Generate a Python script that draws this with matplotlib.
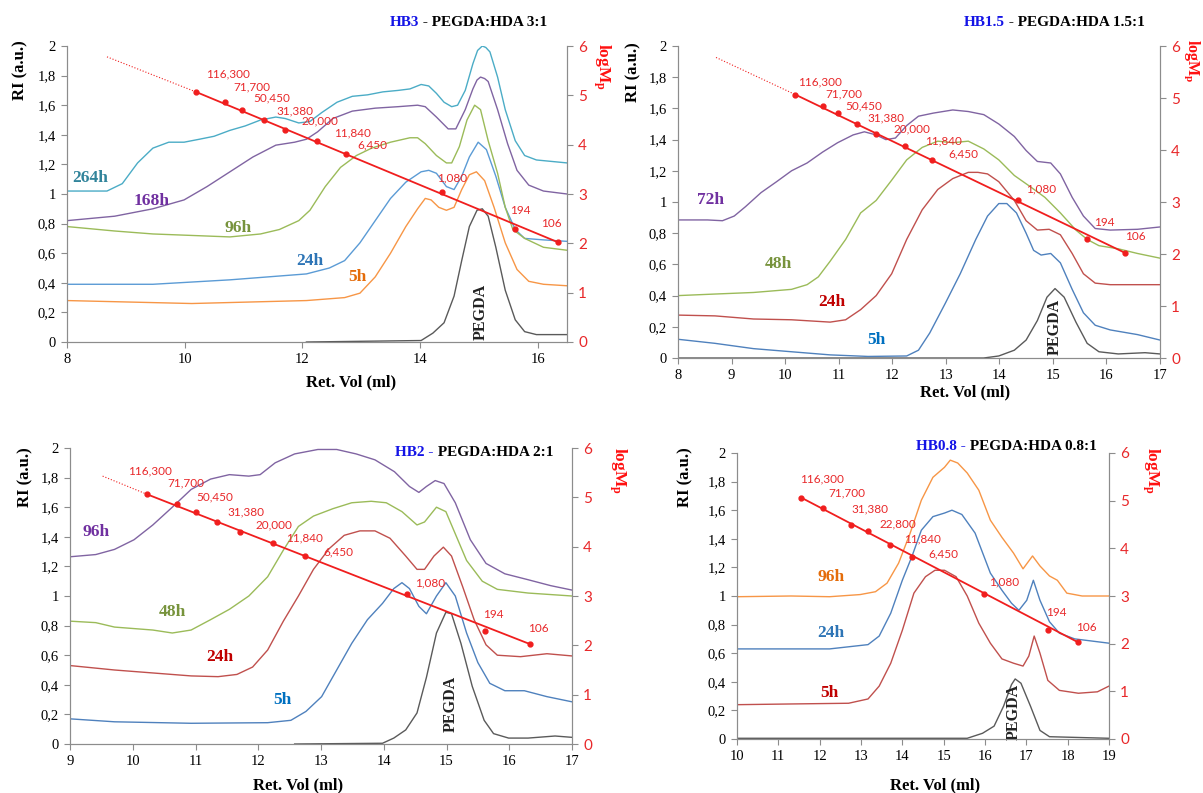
import numpy as np
import matplotlib.pyplot as plt
from matplotlib.ticker import FuncFormatter, MultipleLocator

plt.rcParams['font.family'] = ['Liberation Serif', 'DejaVu Serif']
plt.rcParams['mathtext.fontset'] = 'custom'
plt.rcParams['mathtext.rm'] = 'Liberation Serif'
plt.rcParams['mathtext.bf'] = 'Liberation Serif:bold'

W, H = 1203, 793

# ---- HB3 (PEGDA:HDA 3:1) ----
hb3_264h_x = [8.0, 8.68, 8.94, 9.2, 9.46, 9.73, 9.99, 10.25, 10.5, 10.77, 11.03, 11.29, 11.55, 11.71, 11.94, 12.13, 12.33, 12.59, 12.85, 13.11,
              13.37, 13.63, 13.83, 14.02, 14.15, 14.28, 14.41, 14.54, 14.64, 14.77, 14.9, 14.98, 15.06, 15.12, 15.19, 15.32, 15.45, 15.62, 15.78, 15.98, 16.24, 16.5]
hb3_264h_y = [1.02, 1.02, 1.07, 1.21, 1.31, 1.35, 1.35, 1.37, 1.39, 1.43, 1.46, 1.50, 1.52, 1.51, 1.48, 1.49, 1.55, 1.62, 1.66, 1.67,
              1.69, 1.70, 1.71, 1.74, 1.73, 1.68, 1.62, 1.59, 1.60, 1.70, 1.88, 1.97, 2.00, 1.99, 1.96, 1.79, 1.57, 1.36, 1.26, 1.23, 1.22, 1.21]
hb3_168h_x = [8.0, 8.81, 9.46, 9.99, 10.38, 10.77, 11.16, 11.55, 11.87, 12.07, 12.26, 12.52, 12.85, 13.24, 13.63, 13.96, 14.09, 14.28, 14.48, 14.61,
              14.77, 14.9, 14.97, 15.03, 15.1, 15.16, 15.32, 15.49, 15.65, 15.85, 16.1, 16.5]
hb3_168h_y = [0.82, 0.85, 0.90, 0.96, 1.05, 1.15, 1.25, 1.33, 1.35, 1.37, 1.42, 1.51, 1.56, 1.58, 1.59, 1.60, 1.59, 1.52, 1.44, 1.44,
              1.57, 1.71, 1.77, 1.79, 1.78, 1.76, 1.57, 1.34, 1.16, 1.06, 1.02, 1.00]
hb3_96h_x = [8.0, 8.81, 9.46, 10.12, 10.77, 11.29, 11.61, 11.94, 12.13, 12.39, 12.65, 12.92, 13.18, 13.5, 13.83, 13.96, 14.09, 14.28, 14.45, 14.54,
             14.67, 14.8, 14.93, 15.03, 15.16, 15.32, 15.45, 15.58, 15.78, 16.1, 16.5]
hb3_96h_y = [0.78, 0.75, 0.73, 0.72, 0.71, 0.73, 0.76, 0.82, 0.89, 1.05, 1.18, 1.26, 1.31, 1.35, 1.38, 1.38, 1.34, 1.26, 1.21, 1.21,
             1.32, 1.50, 1.60, 1.57, 1.36, 1.14, 0.91, 0.76, 0.70, 0.64, 0.62]
hb3_24h_x = [8.0, 9.46, 10.77, 12.07, 12.46, 12.72, 12.98, 13.24, 13.5, 13.76, 14.02, 14.15, 14.28, 14.45, 14.58, 14.71, 14.84, 14.99, 15.13, 15.29,
             15.45, 15.62, 15.78, 16.1, 16.5]
hb3_24h_y = [0.39, 0.39, 0.42, 0.46, 0.50, 0.55, 0.67, 0.82, 0.97, 1.08, 1.15, 1.16, 1.14, 1.05, 1.03, 1.12, 1.25, 1.35, 1.30, 1.12,
             0.91, 0.76, 0.70, 0.69, 0.68]
hb3_5h_x = [8.0, 10.12, 12.07, 12.72, 12.98, 13.24, 13.5, 13.76, 13.96, 14.09, 14.19, 14.32, 14.45, 14.58, 14.71, 14.84, 14.96, 15.1, 15.26, 15.45,
            15.65, 15.85, 16.1, 16.5]
hb3_5h_y = [0.28, 0.26, 0.28, 0.30, 0.33, 0.44, 0.60, 0.78, 0.90, 0.97, 0.96, 0.91, 0.89, 0.91, 1.03, 1.13, 1.15, 1.09, 0.91, 0.67,
            0.49, 0.41, 0.39, 0.38]
hb3_pegda_x = [12.07, 14.02, 14.22, 14.41, 14.58, 14.71, 14.84, 14.97, 15.06, 15.16, 15.29, 15.45, 15.62, 15.78, 15.98, 16.5]
hb3_pegda_y = [0.0, 0.01, 0.06, 0.13, 0.31, 0.55, 0.78, 0.89, 0.90, 0.85, 0.64, 0.35, 0.15, 0.07, 0.05, 0.05]

# ---- HB1.5 (PEGDA:HDA 1.5:1) ----
hb15_72h_x = [8.0, 8.55, 8.83, 9.05, 9.26, 9.55, 9.84, 10.12, 10.41, 10.7, 10.98, 11.27, 11.48, 11.7, 11.88, 12.06, 12.27, 12.49, 12.77, 13.13,
              13.42, 13.71, 13.99, 14.28, 14.5, 14.71, 14.96, 15.14, 15.36, 15.57, 15.79, 16.07, 16.58, 17.0]
hb15_72h_y = [0.885, 0.885, 0.88, 0.91, 0.97, 1.06, 1.13, 1.20, 1.25, 1.32, 1.38, 1.43, 1.45, 1.43, 1.40, 1.41, 1.49, 1.55, 1.57, 1.59,
              1.58, 1.56, 1.50, 1.42, 1.33, 1.26, 1.25, 1.18, 1.03, 0.91, 0.83, 0.82, 0.825, 0.84]
hb15_48h_x = [8.0, 8.69, 9.41, 10.12, 10.41, 10.62, 10.84, 11.13, 11.41, 11.7, 11.99, 12.27, 12.56, 12.85, 13.13, 13.42, 13.71, 13.99, 14.28, 14.57,
              14.85, 15.14, 15.43, 15.64, 15.86, 16.22, 16.58, 17.0]
hb15_48h_y = [0.40, 0.41, 0.42, 0.44, 0.47, 0.52, 0.62, 0.76, 0.93, 1.01, 1.14, 1.27, 1.35, 1.39, 1.38, 1.39, 1.34, 1.27, 1.17, 1.10,
              1.03, 0.93, 0.82, 0.76, 0.72, 0.70, 0.67, 0.64]
hb15_24h_x = [8.0, 8.69, 9.41, 10.12, 10.84, 11.13, 11.41, 11.7, 11.99, 12.27, 12.56, 12.85, 13.13, 13.42, 13.6, 13.78, 13.99, 14.28, 14.5, 14.71,
              14.93, 15.14, 15.36, 15.57, 15.79, 16.07, 17.0]
hb15_24h_y = [0.275, 0.27, 0.25, 0.245, 0.23, 0.245, 0.31, 0.40, 0.54, 0.76, 0.95, 1.08, 1.15, 1.19, 1.19, 1.18, 1.13, 1.01, 0.88, 0.82,
              0.825, 0.79, 0.67, 0.54, 0.48, 0.47, 0.47]
hb15_5h_x = [8.0, 8.69, 9.41, 10.12, 10.84, 11.55, 12.27, 12.49, 12.7, 12.99, 13.27, 13.56, 13.78, 13.99, 14.14, 14.32, 14.5, 14.64, 14.78, 14.96,
             15.14, 15.36, 15.57, 15.79, 16.07, 16.58, 17.0]
hb15_5h_y = [0.12, 0.094, 0.06, 0.04, 0.02, 0.01, 0.013, 0.05, 0.16, 0.35, 0.54, 0.76, 0.91, 0.99, 0.99, 0.93, 0.80, 0.69, 0.66, 0.67,
             0.61, 0.44, 0.29, 0.21, 0.18, 0.15, 0.115]
hb15_pegda_x = [8.0, 13.71, 13.99, 14.28, 14.5, 14.71, 14.89, 15.04, 15.21, 15.43, 15.64, 15.86, 16.22, 16.72, 17.0]
hb15_pegda_y = [0.0, 0.0, 0.013, 0.05, 0.115, 0.24, 0.39, 0.445, 0.39, 0.23, 0.094, 0.04, 0.026, 0.034, 0.026]

# ---- HB2 (PEGDA:HDA 2:1) ----
hb2_96h_x = [9.0, 9.41, 9.71, 10.02, 10.32, 10.63, 10.93, 11.24, 11.54, 11.85, 12.03, 12.27, 12.58, 12.95, 13.25, 13.56, 13.86, 14.17, 14.41, 14.56,
             14.68, 14.82, 14.96, 15.14, 15.38, 15.63, 15.93, 16.3, 16.66, 17.0]
hb2_96h_y = [1.265, 1.28, 1.315, 1.38, 1.48, 1.60, 1.72, 1.79, 1.82, 1.81, 1.82, 1.90, 1.96, 1.99, 1.99, 1.96, 1.92, 1.84, 1.74, 1.70,
             1.74, 1.78, 1.76, 1.63, 1.38, 1.22, 1.15, 1.11, 1.07, 1.04]
hb2_48h_x = [9.0, 9.41, 9.71, 10.32, 10.63, 10.93, 11.24, 11.54, 11.85, 12.15, 12.4, 12.64, 12.88, 13.19, 13.49, 13.8, 14.04, 14.29, 14.53, 14.65,
             14.84, 14.99, 15.14, 15.32, 15.57, 15.81, 16.3, 17.0]
hb2_48h_y = [0.83, 0.82, 0.79, 0.77, 0.75, 0.77, 0.84, 0.91, 1.00, 1.13, 1.31, 1.47, 1.54, 1.59, 1.63, 1.64, 1.63, 1.57, 1.48, 1.50,
             1.60, 1.57, 1.42, 1.24, 1.10, 1.045, 1.02, 1.00]
hb2_24h_x = [9.0, 9.71, 10.32, 10.93, 11.36, 11.66, 11.91, 12.15, 12.4, 12.64, 12.88, 13.13, 13.37, 13.62, 13.86, 14.1, 14.35, 14.53, 14.65, 14.8,
             14.95, 15.08, 15.26, 15.44, 15.63, 15.81, 16.18, 16.6, 17.0]
hb2_24h_y = [0.53, 0.50, 0.48, 0.46, 0.455, 0.47, 0.52, 0.635, 0.83, 1.00, 1.18, 1.32, 1.41, 1.44, 1.44, 1.39, 1.27, 1.18, 1.18, 1.27,
             1.33, 1.27, 1.06, 0.84, 0.67, 0.60, 0.59, 0.61, 0.595]
hb2_5h_x = [9.0, 9.71, 10.93, 12.15, 12.52, 12.76, 13.01, 13.25, 13.49, 13.74, 13.98, 14.16, 14.29, 14.41, 14.56, 14.68, 14.84, 14.99, 15.14, 15.32,
            15.5, 15.69, 15.93, 16.24, 16.6, 17.0]
hb2_5h_y = [0.17, 0.15, 0.14, 0.144, 0.16, 0.22, 0.32, 0.50, 0.68, 0.84, 0.95, 1.05, 1.09, 1.05, 0.93, 0.88, 1.00, 1.09, 1.00, 0.75,
            0.55, 0.41, 0.36, 0.36, 0.32, 0.285]
hb2_pegda_x = [12.58, 13.98, 14.16, 14.35, 14.53, 14.68, 14.84, 14.99, 15.08, 15.23, 15.41, 15.6, 15.75, 15.99, 16.3, 16.73, 17.0]
hb2_pegda_y = [0.0, 0.005, 0.04, 0.095, 0.21, 0.45, 0.75, 0.89, 0.88, 0.68, 0.39, 0.16, 0.07, 0.04, 0.04, 0.054, 0.045]

# ---- HB0.8 (PEGDA:HDA 0.8:1) ----
hb08_96h_x = [10.0, 11.31, 12.24, 12.98, 13.35, 13.63, 13.91, 14.19, 14.46, 14.74, 15.02, 15.16, 15.34, 15.57, 15.85, 16.13, 16.41, 16.69, 16.92, 17.15,
              17.33, 17.56, 17.75, 17.98, 18.35, 19.0]
hb08_96h_y = [0.995, 1.0, 0.995, 1.01, 1.03, 1.09, 1.23, 1.44, 1.67, 1.83, 1.90, 1.95, 1.93, 1.86, 1.74, 1.53, 1.41, 1.30, 1.19, 1.28,
              1.21, 1.14, 1.11, 1.02, 1.0, 1.0]
hb08_24h_x = [10.0, 11.31, 12.24, 13.17, 13.44, 13.72, 14.0, 14.23, 14.46, 14.74, 15.02, 15.2, 15.44, 15.76, 16.13, 16.41, 16.64, 16.82, 17.01, 17.17,
              17.33, 17.56, 17.8, 18.17, 19.0]
hb08_24h_y = [0.63, 0.63, 0.63, 0.66, 0.72, 0.88, 1.11, 1.275, 1.46, 1.555, 1.58, 1.60, 1.57, 1.44, 1.16, 1.04, 0.95, 0.90, 0.97, 1.11,
              0.97, 0.82, 0.74, 0.70, 0.67]
hb08_5h_x = [10.0, 11.31, 12.7, 13.17, 13.44, 13.72, 14.0, 14.28, 14.56, 14.79, 15.02, 15.3, 15.57, 15.85, 16.13, 16.41, 16.69, 16.92, 17.06, 17.19,
             17.33, 17.52, 17.8, 18.26, 18.72, 19.0]
hb08_5h_y = [0.24, 0.245, 0.25, 0.28, 0.37, 0.53, 0.76, 1.02, 1.135, 1.18, 1.18, 1.135, 1.00, 0.81, 0.67, 0.56, 0.53, 0.51, 0.58, 0.72,
             0.60, 0.41, 0.34, 0.32, 0.33, 0.37]
hb08_pegda_x = [10.0, 15.57, 15.94, 16.22, 16.45, 16.64, 16.73, 16.87, 17.1, 17.33, 17.56, 19.0]
hb08_pegda_y = [0.005, 0.005, 0.04, 0.09, 0.23, 0.38, 0.42, 0.39, 0.23, 0.06, 0.016, 0.005]

# ---- calibration standards (Mp) and their retention volumes ----
cal_mp = [116300, 71700, 50450, 31380, 20000, 11840, 6450, 1080, 194, 106]
cal_txt = ['116,300', '71,700', '50,450', '31,380', '20,000', '11,840', '6,450', '1,080', '194', '106']
hb3_cal_x = [10.20, 10.69, 10.97, 11.35, 11.70, 12.25, 12.74, 14.37, 15.62, 16.34]
hb15_cal_x = [10.19, 10.70, 10.98, 11.34, 11.69, 12.24, 12.74, 14.35, 15.63, 16.34]
hb2_cal_x = [10.22, 10.71, 11.00, 11.35, 11.71, 12.24, 12.75, 14.37, 15.62, 16.33]
hb08_cal_mp = [116300, 71700, 31380, 22800, 11840, 6450, 1080, 194, 106]
hb08_cal_txt = ['116,300', '71,700', '31,380', '22,800', '11,840', '6,450', '1,080', '194', '106']
hb08_cal_x = [11.55, 12.08, 12.77, 13.17, 13.69, 14.23, 15.97, 17.52, 18.26]
# start of the dotted extrapolation of the fit (ret. vol, logMp)
hb3_ext = (8.68, 5.78)
hb15_ext = (8.71, 5.78)
hb2_ext = (9.52, 5.43)

C_TEAL, C_PURP, C_GREEN, C_BLUE, C_ORNG, C_RED, C_GRAY = '#4bacc6', '#8064a2', '#9bbb59', '#4f81bd', '#f79646', '#c0504d', '#5a5a5a'
T_TEAL, T_PURP, T_GREEN, T_BLUE, T_ORNG, T_RED = '#31849b', '#7030a0', '#77933c', '#2e75b6', '#e46c0a', '#c00000'
CAL = '#f01e1e'
SPINE = '#8c8c8c'

fig = plt.figure(figsize=(W / 100, H / 100), dpi=100)


def px_axes(l, t, r, b):
    a = fig.add_axes([l / W, 1 - b / H, (r - l) / W, (b - t) / H])
    a.patch.set_alpha(0)
    return a


def fxy(x, y):
    return x / W, 1 - y / H


def ri_fmt(v, _):
    if abs(v - round(v)) < 1e-6:
        return str(int(round(v)))
    return f"{v:.1f}".replace('.', ',')


def setup(ax, xlim, xstep):
    ax.set_xlim(*xlim)
    ax.set_ylim(0, 2)
    ax.xaxis.set_major_locator(MultipleLocator(xstep))
    ax.yaxis.set_major_locator(MultipleLocator(0.2))
    ax.yaxis.set_major_formatter(FuncFormatter(ri_fmt))
    ax.spines['top'].set_visible(False)
    for s in ['left', 'bottom', 'right']:
        ax.spines[s].set_color(SPINE)
    ax.tick_params(direction='out', length=4, color=SPINE, labelsize=10.5, pad=4)
    ax2 = ax.twinx()
    ax2.patch.set_alpha(0)
    ax2.set_ylim(0, 6)
    ax2.yaxis.set_major_locator(MultipleLocator(1))
    ax2.spines['top'].set_visible(False)
    for s in ['left', 'bottom', 'right']:
        ax2.spines[s].set_color(SPINE)
    ax2.tick_params(direction='out', length=4, color=SPINE, labelcolor='#e8282a', labelsize=11,
                    labelfontfamily='Lato', pad=4)
    return ax2


def curves(ax, series):
    for xs, ys, col in series:
        ax.plot(xs, ys, color=col, lw=1.0)


def labels(ax, items):
    for txt, x, y, col in items:
        ax.text(x, y, txt, color=col, fontsize=12.5, fontweight='bold', ha='center', va='center')


def pegda(ax, x, y):
    ax.text(x, y, 'PEGDA', rotation=90, fontsize=11.5, fontweight='bold', ha='center', va='center', color='#222222')


def calib(ax2, xs, mps, txts, offs, ext=None):
    lm = np.log10(mps)
    if ext is not None:
        ax2.plot([ext[0], xs[0]], [ext[1], lm[0]], color=CAL, lw=0.8, ls=':', zorder=5)
    ax2.plot([xs[0], xs[-1]], [lm[0], lm[-1]], color=CAL, lw=1.3, zorder=5)
    ax2.plot(xs, lm, 'o', color=CAL, ms=3.5, zorder=6)
    for x, y, t, (dx, dy) in zip(xs, lm, txts, offs):
        ax2.annotate(t, (x, y), xytext=(dx, dy), textcoords='offset pixels', color='#e8282a',
                     fontsize=8.5, family='Lato', ha='left', va='center', zorder=7)


def title(ax, x_end, y, blue, black):
    t = fig.text(*fxy(x_end, y), black, ha='right', va='center', fontsize=11, fontweight='bold', color='black')
    ax.annotate(blue, xy=(0, 0), xycoords=t, ha='right', va='bottom', fontsize=11,
                fontweight='bold', color='#1414e6', zorder=10)


def side_labels(ri_xy, log_xy, xl_xy, log_size=12.5):
    fig.text(*fxy(*ri_xy), 'RI (a.u.)', rotation=90, ha='center', va='center', fontsize=12, fontweight='bold')
    fig.text(*fxy(*log_xy), r'$\mathbf{logM_p}$', rotation=270, ha='center', va='center', fontsize=log_size,
             color='#ff1010')
    fig.text(*fxy(*xl_xy), 'Ret. Vol (ml)', ha='center', va='center', fontsize=12, fontweight='bold')


# ---------- panel HB3 ----------
ax = px_axes(67, 46, 567, 342)
ax2 = setup(ax, (8, 16.5), 2)
curves(ax, [(hb3_pegda_x, hb3_pegda_y, C_GRAY), (hb3_5h_x, hb3_5h_y, C_ORNG), (hb3_24h_x, hb3_24h_y, '#5b9bd5'),
            (hb3_96h_x, hb3_96h_y, C_GREEN), (hb3_168h_x, hb3_168h_y, C_PURP), (hb3_264h_x, hb3_264h_y, C_TEAL)])
labels(ax, [('264h', 8.39, 1.11, T_TEAL), ('168h', 9.43, 0.95, T_PURP), ('96h', 10.9, 0.77, T_GREEN),
            ('24h', 12.12, 0.55, T_BLUE), ('5h', 12.93, 0.44, T_ORNG)])
pegda(ax, 15.03, 0.2)
calib(ax2, hb3_cal_x, cal_mp, cal_txt,
      [(10, 18), (8, 16), (12, 12), (12, 9), (17, 9), (17, 8), (12, 9), (-5, 14), (-5, 19), (-17, 19)], hb3_ext)
title(ax2, 547, 23, 'HB3', ' - PEGDA:HDA 3:1')
side_labels((20, 70), (602, 66), (351, 382))

# ---------- panel HB1.5 ----------
ax = px_axes(678, 46, 1160, 358)
ax2 = setup(ax, (8, 17), 1)
curves(ax, [(hb15_pegda_x, hb15_pegda_y, C_GRAY), (hb15_5h_x, hb15_5h_y, C_BLUE), (hb15_24h_x, hb15_24h_y, C_RED),
            (hb15_48h_x, hb15_48h_y, C_GREEN), (hb15_72h_x, hb15_72h_y, C_PURP)])
labels(ax, [('72h', 8.6, 1.01, T_PURP), ('48h', 9.87, 0.60, T_GREEN), ('24h', 10.87, 0.36, T_RED),
            ('5h', 11.7, 0.115, '#0070c0')])
pegda(ax, 15.03, 0.2)
calib(ax2, hb15_cal_x, cal_mp, cal_txt,
      [(3, 13), (3, 12), (8, 8), (11, 6), (18, 5), (20, 5), (17, 6), (8, 11), (7, 17), (0, 16)], hb15_ext)
title(ax2, 1145, 23, 'HB1.5', ' - PEGDA:HDA 1.5:1')
side_labels((633, 72), (1192, 61), (965, 392), log_size=11.5)

# ---------- panel HB2 ----------
ax = px_axes(70, 448, 572, 744)
ax2 = setup(ax, (9, 17), 1)
curves(ax, [(hb2_pegda_x, hb2_pegda_y, C_GRAY), (hb2_5h_x, hb2_5h_y, C_BLUE), (hb2_24h_x, hb2_24h_y, C_RED),
            (hb2_48h_x, hb2_48h_y, C_GREEN), (hb2_96h_x, hb2_96h_y, C_PURP)])
labels(ax, [('96h', 9.42, 1.43, T_PURP), ('48h', 10.63, 0.89, T_GREEN), ('24h', 11.39, 0.59, T_RED),
            ('5h', 12.38, 0.30, '#0070c0')])
pegda(ax, 15.07, 0.27)
calib(ax2, hb2_cal_x, cal_mp, cal_txt,
      [(-18, 23), (-10, 22), (1, 15), (10, 10), (15, 7), (13, 5), (18, 4), (8, 11), (-2, 17), (-2, 16)], hb2_ext)
title(ax2, 553, 452, 'HB2 -', ' PEGDA:HDA 2:1')
side_labels((25, 477), (618, 470), (298, 785))

# ---------- panel HB0.8 ----------
ax = px_axes(737, 453, 1109, 739)
ax2 = setup(ax, (10, 19), 1)
curves(ax, [(hb08_pegda_x, hb08_pegda_y, C_GRAY), (hb08_5h_x, hb08_5h_y, C_RED), (hb08_24h_x, hb08_24h_y, C_BLUE),
            (hb08_96h_x, hb08_96h_y, C_ORNG)])
labels(ax, [('96h', 12.27, 1.135, T_ORNG), ('24h', 12.27, 0.74, T_BLUE), ('5h', 12.24, 0.32, T_RED)])
pegda(ax, 16.7, 0.19)
calib(ax2, hb08_cal_x, hb08_cal_mp, hb08_cal_txt,
      [(-1, 19), (5, 15), (0, 16), (11, 7), (15, 6), (17, 3), (5, 12), (-2, 17), (-2, 15)])
title(ax2, 1097, 447, 'HB0.8 -', ' PEGDA:HDA 0.8:1')
side_labels((685, 477), (1151, 470), (935, 785))

fig.savefig('out.png', dpi=100)
